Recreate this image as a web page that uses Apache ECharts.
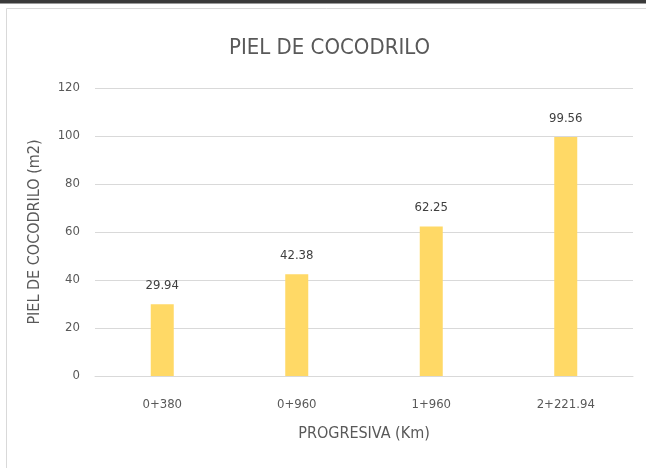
<!DOCTYPE html>
<html>
<head>
<meta charset="utf-8">
<script src="https://cdn.jsdelivr.net/npm/echarts@6/dist/echarts.min.js"></script>
<style>
  html, body { margin: 0; padding: 0; background: #ffffff; }
  #chart { width: 646px; height: 468px; }
</style>
</head>
<body>
<div id="chart"></div>
<script>
// Crocodile-skin (alligator cracking) area per chainage
const chartTitle = 'PIEL DE COCODRILO';
const categories = ['0+380', '0+960', '1+960', '2+221.94'];
const areaValues = [29.94, 42.38, 62.25, 99.56];
const yTicks = { min: 0, max: 120, interval: 20 };
const xAxisName = 'PROGRESIVA (Km)';
const yAxisName = 'PIEL DE COCODRILO (m2)';

const FONT = "'Liberation Sans Narrow', 'DejaVu Sans Condensed', 'Liberation Sans', sans-serif";
const TEXT = '#595959';

const chart = echarts.init(document.getElementById('chart'), null, { renderer: 'canvas' });

chart.setOption({
  backgroundColor: '#ffffff',
  animation: false,
  textStyle: { fontFamily: FONT },
  graphic: [
    // dark strip along the top edge
    { type: 'rect', shape: { x: 0, y: 0, width: 646, height: 3 }, style: { fill: '#3a3a3a' }, z: 100 },
    { type: 'rect', shape: { x: 0, y: 3, width: 646, height: 1 }, style: { fill: '#9a9a9a' }, z: 100 },
    // chart frame (top and left edges)
    { type: 'line', shape: { x1: 6.5, y1: 8.5, x2: 646, y2: 8.5 }, style: { stroke: '#d9d9d9', lineWidth: 1 }, z: 100 },
    { type: 'line', shape: { x1: 6.5, y1: 8.5, x2: 6.5, y2: 468 }, style: { stroke: '#d9d9d9', lineWidth: 1 }, z: 100 }
  ],
  title: {
    text: chartTitle,
    left: 224,
    top: 32,
    textStyle: { fontFamily: FONT, fontSize: 22, fontWeight: 'normal', color: TEXT }
  },
  grid: { left: 95, right: 13, top: 88, bottom: 92, containLabel: false },
  xAxis: {
    type: 'category',
    data: categories,
    name: xAxisName,
    nameLocation: 'middle',
    nameGap: 50,
    nameTextStyle: { fontFamily: FONT, fontSize: 16, color: TEXT },
    axisLine: { show: true, lineStyle: { color: '#d9d9d9', width: 1 } },
    axisTick: { show: false },
    axisLabel: { fontFamily: FONT, fontSize: 13, color: TEXT, margin: 22 }
  },
  yAxis: {
    type: 'value',
    min: yTicks.min,
    max: yTicks.max,
    interval: yTicks.interval,
    name: yAxisName,
    nameLocation: 'middle',
    nameGap: 52,
    nameRotate: 90,
    nameTextStyle: { fontFamily: FONT, fontSize: 16, color: TEXT },
    axisLine: { show: false },
    axisTick: { show: false },
    axisLabel: { fontFamily: FONT, fontSize: 13, color: TEXT, margin: 15 },
    splitLine: { lineStyle: { color: '#d9d9d9', width: 1 } }
  },
  series: [{
    type: 'bar',
    data: areaValues,
    barWidth: 23,
    itemStyle: { color: '#ffd966' },
    label: {
      show: true,
      position: 'top',
      distance: 12,
      fontFamily: FONT,
      fontSize: 13,
      color: '#404040',
      formatter: p => p.value.toFixed(2)
    }
  }]
});
</script>
</body>
</html>
